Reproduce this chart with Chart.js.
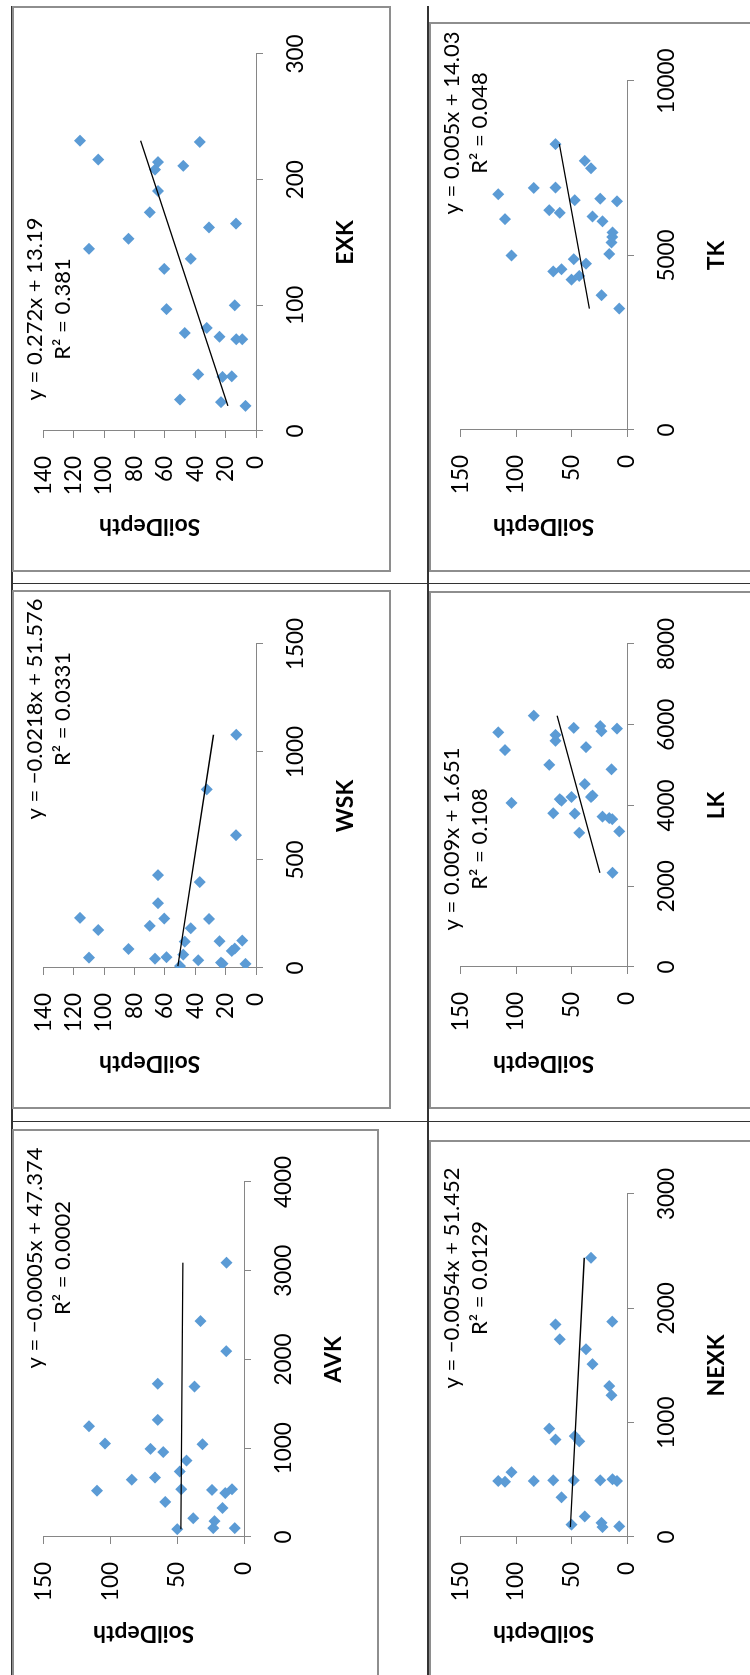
<!DOCTYPE html>
<html>
<head>
<meta charset="utf-8">
<script src="https://cdn.jsdelivr.net/npm/chart.js@4.4.0/dist/chart.umd.min.js"></script>
<style>
  body { margin: 0; background: #fff; overflow: hidden; }
  /* page is laid out upright, then turned a quarter to the left */
  #page { position: absolute; left: 0; top: 0; width: 1675px; height: 750px;
          transform-origin: 0 0; transform: translate(0, 1675px) rotate(-90deg); }
  .cell { position: absolute; }
  .frame { position: absolute; border: 2px solid #8e8e8e; box-sizing: border-box; pointer-events: none; }
  .rule { position: absolute; background: #333; }
</style>
</head>
<body>
<div id="page"></div>
<script>
// Soil depth of the samples (y of every panel)
const soilDepth = [116, 110, 104, 84, 70, 66.5, 64.5, 64.5, 60.5, 59, 50, 48, 47, 43, 38, 37, 32.5, 31, 24, 23, 22, 16, 14, 13.2, 13, 9, 7];

// Potassium fractions, same sample order
const exk  = [231, 145, 216, 153, 174, 208, 214, 191, 129, 97, 25, 211, 78, 137, 45, 230, 82, 162, 75, 23, 43, 43.5, 100, 165, 73, 73, 20];
const wsk  = [232, 48, 176, 88, 195, 43, 430, 300, 229, 50, 9, 62, 122, 184, 36, 398, 827, 227, 124, 25, 20, 79, 90, 615, 1080, 127, 19];
const avk  = [1248, 522, 1053, 646, 993, 670, 1727, 1320, 957, 395, 88, 738, 538, 861, 211, 1695, 2433, 1045, 530, 100, 179, 327, 495, 2094, 3091, 538, 100];
const tk   = [6755, 6043, 5000, 6936, 6298, 4543, 8191, 6947, 6223, 4606, 4309, 4894, 6585, 4415, 7713, 4766, 7500, 6117, 6628, 3862, 5979, 5043, 5372, 5530, 5660, 6553, 3479];
const lk   = [5812, 5373, 4064, 6224, 5007, 3808, 5748, 5602, 4156, 4119, 4211, 5922, 3799, 3323, 4531, 5446, 4211, 4247, 5968, 5840, 3725, 3689, 4897, 3661, 2334, 5904, 3359];
const nexk = [490, 483, 567, 490, 948, 496, 1859, 852, 1729, 347, 108, 496, 883, 837, 180, 1642, 2442, 1512, 496, 124, 87, 1320, 1240, 1884, 505, 490, 93];

// Trend line ends
const exkFitX = [20, 231],    exkFitY = [18.6, 76];
const wskFitX = [9, 1080],    wskFitY = [51.4, 28];
const avkFitX = [88, 3091],   avkFitY = [47.3, 45.8];
const tkFitX = [3479, 8191],  tkFitY = [33.8, 60.9];
const lkFitX = [2334, 6224],  lkFitY = [24.4, 62.9];
const nexkFitX = [87, 2442],  nexkFitY = [51, 38.5];

// Axis ranges
const xMaxes = { EXK: 300, WSK: 1500, AVK: 4000, TK: 10000, LK: 8000, NEXK: 3000 };
const xSteps = { EXK: 100, WSK: 500, AVK: 1000, TK: 5000, LK: 2000, NEXK: 1000 };
const yMaxes = { EXK: 140, WSK: 140, AVK: 150, TK: 150, LK: 150, NEXK: 150 };
const ySteps = { EXK: 20, WSK: 20, AVK: 50, TK: 50, LK: 50, NEXK: 50 };

// Trendline labels
const equations = {
  EXK: ['y = 0.272x + 13.19', 'R² = 0.381'],
  WSK: ['y = −0.0218x + 51.576', 'R² = 0.0331'],
  AVK: ['y = −0.0005x + 47.374', 'R² = 0.0002'],
  TK: ['y = 0.005x + 14.03', 'R² = 0.048'],
  LK: ['y = 0.009x + 1.651', 'R² = 0.108'],
  NEXK: ['y = −0.0054x + 51.452', 'R² = 0.0129']
};

// Panel frames on the upright page: left, top, width, height, plot left, right gap, plot top, label x
const panels = [
  { name: 'EXK',  xs: exk,  fx: exkFitX,  fy: exkFitY,  box: [1103, 12, 566, 379], pl: 141, pr: 48, pt: 28, eqX: 263 },
  { name: 'WSK',  xs: wsk,  fx: wskFitX,  fy: wskFitY,  box: [566, 12, 519, 379],  pl: 141, pr: 54, pt: 28, eqX: 400 },
  { name: 'AVK',  xs: avk,  fx: avkFitX,  fy: avkFitY,  box: [-4, 12, 550, 367],   pl: 142, pr: 53, pt: 28, eqX: 421 },
  { name: 'TK',   xs: tk,   fx: tkFitX,   fy: tkFitY,   box: [1103, 429, 550, 333], pl: 142, pr: 59, pt: 28, eqX: 449 },
  { name: 'LK',   xs: lk,   fx: lkFitX,   fy: lkFitY,   box: [566, 429, 518, 333],  pl: 142, pr: 53, pt: 28, eqX: 270 },
  { name: 'NEXK', xs: nexk, fx: nexkFitX, fy: nexkFitY, box: [-4, 429, 539, 333],   pl: 142, pr: 54, pt: 28, eqX: 401 }
];

const page = document.getElementById('page');
const axisGray = '#868686';
const tickFont = { family: 'Lato', size: 22.5 };
const titleFont = { family: 'Lato', size: 23, weight: 'bold' };

// Table rules
function rule(l, t, w, h) {
  const d = document.createElement('div');
  d.className = 'rule';
  Object.assign(d.style, { left: l + 'px', top: t + 'px', width: w + 'px', height: h + 'px' });
  page.appendChild(d);
}
rule(0, 11, 1669, 2);
rule(0, 427, 1669, 2);
rule(1091, 12, 1, 738);
rule(553, 12, 1, 738);

// Trendline equation text
const eqPlugin = {
  id: 'eqLabel',
  afterDatasetsDraw(chart, args, opts) {
    const ctx = chart.ctx;
    ctx.save();
    ctx.font = '22px Lato';
    ctx.fillStyle = '#000';
    ctx.textAlign = 'center';
    ctx.textBaseline = 'middle';
    opts.lines.forEach((t, i) => ctx.fillText(t, opts.x, opts.y[i]));
    ctx.restore();
  }
};

function buildPanel(p) {
  const [l, t, w, h] = p.box;
  const cell = document.createElement('div');
  cell.className = 'cell';
  Object.assign(cell.style, { left: l + 'px', top: t + 'px', width: w + 'px', height: h + 'px' });
  const canvas = document.createElement('canvas');
  cell.appendChild(canvas);
  page.appendChild(cell);

  const frame = document.createElement('div');
  frame.className = 'frame';
  Object.assign(frame.style, { left: l + 'px', top: t + 'px', width: w + 'px', height: h + 'px' });
  page.appendChild(frame);

  new Chart(canvas, {
    type: 'scatter',
    data: {
      datasets: [
        {
          data: p.fx.map((x, i) => ({ x: x, y: p.fy[i] })),
          showLine: true,
          borderColor: '#000',
          borderWidth: 1.3,
          pointRadius: 0
        },
        {
          data: p.xs.map((x, i) => ({ x: x, y: soilDepth[i] })),
          pointStyle: 'rectRot',
          pointRadius: 6,
          backgroundColor: '#5b9bd5',
          borderWidth: 0
        }
      ]
    },
    options: {
      responsive: true,
      maintainAspectRatio: false,
      animation: false,
      layout: { padding: { left: 0, right: p.pr, top: p.pt, bottom: 0 } },
      plugins: {
        legend: { display: false },
        tooltip: { enabled: false },
        eqLabel: { lines: equations[p.name], x: p.eqX, y: [23, 51] }
      },
      scales: {
        x: {
          type: 'linear',
          min: 0,
          max: xMaxes[p.name],
          ticks: { stepSize: xSteps[p.name], font: tickFont, color: '#000', padding: 19, maxRotation: 0, autoSkip: false,
                   callback: v => String(v) },
          grid: { drawOnChartArea: false, tickLength: 7, tickColor: axisGray },
          border: { color: axisGray },
          title: { display: true, text: p.name, font: titleFont, color: '#000', padding: { top: 0, bottom: 32 } },
          afterFit: s => { s.height = 135; }
        },
        y: {
          min: 0,
          max: yMaxes[p.name],
          ticks: { stepSize: ySteps[p.name], font: tickFont, color: '#000', padding: 18, autoSkip: false,
                   callback: v => String(v) },
          grid: { drawOnChartArea: false, tickLength: 7, tickColor: axisGray },
          border: { color: axisGray },
          title: { display: true, text: 'SoilDepth', font: titleFont, color: '#000', padding: { top: 32, bottom: 0 } },
          afterFit: s => { s.width = p.pl; }
        }
      }
    },
    plugins: [eqPlugin]
  });
}

panels.forEach(buildPanel);
</script>
</body>
</html>
